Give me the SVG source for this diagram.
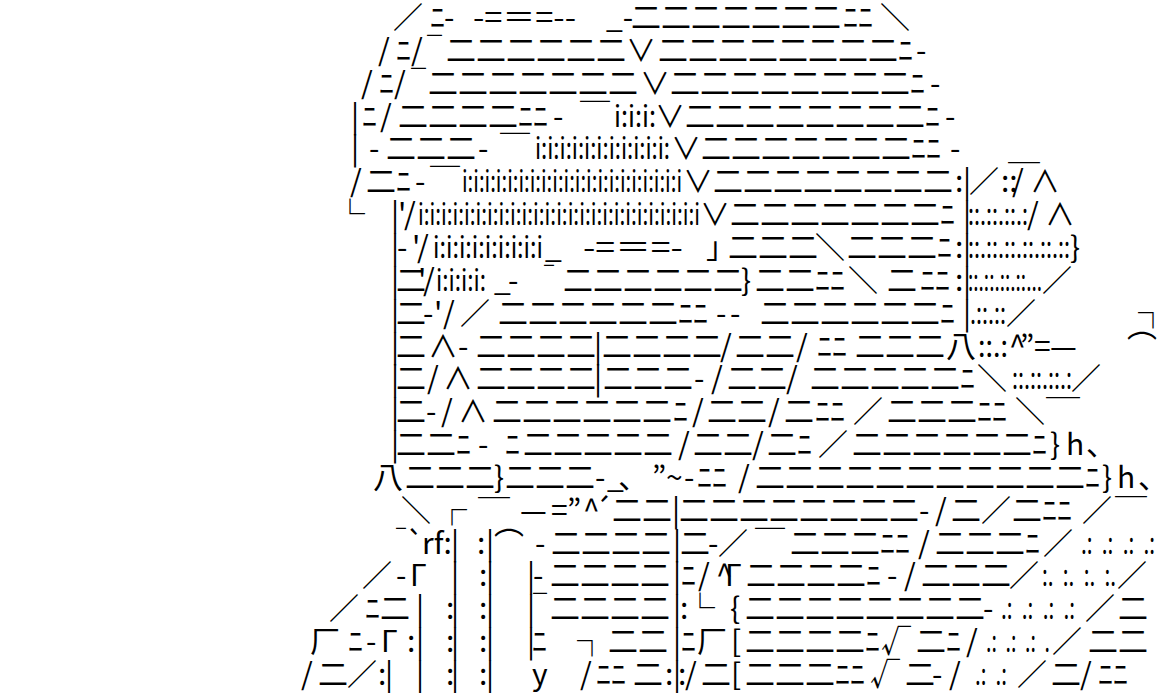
<svg xmlns="http://www.w3.org/2000/svg" width="1170" height="693" viewBox="0 0 1170 693">
<style>
text{font-family:"Noto Sans CJK JP","Noto Sans CJK SC",sans-serif;font-size:30px;fill:#000;white-space:pre}
</style>
<rect width="1170" height="693" fill="#fff"/>
<g id="art">
<g id="l1"><text y="28"><tspan x="393">／</tspan><tspan x="430">ﾆ</tspan><tspan x="444">-</tspan><tspan x="606">_-</tspan><tspan x="631">二二二二二二二</tspan><tspan x="843">ﾆﾆ</tspan><tspan x="880">＼</tspan></text><text x="473" y="28" textLength="103" lengthAdjust="spacingAndGlyphs">-=＝=--</text></g>
<g id="l2"><text y="61"><tspan x="378">/</tspan><tspan x="396">ﾆ</tspan><tspan x="411">/</tspan><tspan x="446">二二二二二二</tspan><tspan x="626">∨</tspan><tspan x="658">二二二二二二二二</tspan><tspan x="898">ﾆ</tspan><tspan x="916">-</tspan></text><text x="427" y="61" textLength="15" lengthAdjust="spacingAndGlyphs">￣</text></g>
<g id="l3"><text y="94"><tspan x="361">/</tspan><tspan x="379">ﾆ</tspan><tspan x="394">/</tspan><tspan x="428">二二二二二二二</tspan><tspan x="640">∨</tspan><tspan x="670">二二二二二二二二</tspan><tspan x="910">ﾆ</tspan><tspan x="930">-</tspan></text><text x="411" y="94" textLength="15" lengthAdjust="spacingAndGlyphs">￣</text></g>
<g id="l4"><text y="127"><tspan x="351">|</tspan><tspan x="362">ﾆ</tspan><tspan x="380">/</tspan><tspan x="398">二二二二</tspan><tspan x="518">ﾆﾆ</tspan><tspan x="553">-</tspan><tspan x="580">￣</tspan><tspan x="655">∨</tspan><tspan x="685">二二二二二二二二</tspan><tspan x="925">ﾆ</tspan><tspan x="945">-</tspan></text><text x="614" y="127" textLength="42" lengthAdjust="spacingAndGlyphs">i:i:i:</text></g>
<g id="l5"><text y="159"><tspan x="351">|</tspan><tspan x="369">-</tspan><tspan x="386">二二二</tspan><tspan x="478">-</tspan><tspan x="500">￣</tspan><tspan x="671">∨</tspan><tspan x="701">二二二二二二二</tspan><tspan x="911">ﾆﾆ</tspan><tspan x="950">-</tspan></text><text x="535" y="159" textLength="135" lengthAdjust="spacingAndGlyphs">i:i:i:i:i:i:i:i:i:i:i:</text><text x="1008" y="159" textLength="32" lengthAdjust="spacingAndGlyphs">＿</text></g>
<g id="l6"><text y="192"><tspan x="350">/</tspan><tspan x="366">二ﾆ</tspan><tspan x="415">-</tspan><tspan x="430">￣</tspan><tspan x="683">∨</tspan><tspan x="713">二二二二二二二二</tspan><tspan x="955">:</tspan><tspan x="963">|</tspan><tspan x="969">／</tspan><tspan x="1001">::</tspan><tspan x="1012">/</tspan><tspan x="1030">∧</tspan></text><text x="462" y="192" textLength="220" lengthAdjust="spacingAndGlyphs">i:i:i:i:i:i:i:i:i:i:i:i:i:i:i:i:i:i:i:i</text></g>
<g id="l7"><text y="225"><tspan x="335">└</tspan><tspan x="391">|</tspan><tspan x="398">'</tspan><tspan x="404">/</tspan><tspan x="700">∨</tspan><tspan x="730">二二二二二二二</tspan><tspan x="940">ﾆ</tspan><tspan x="963">|</tspan><tspan x="1027">/</tspan><tspan x="1045">∧</tspan></text><text x="418" y="225" textLength="282" lengthAdjust="spacingAndGlyphs">i:i:i:i:i:i:i:i:i:i:i:i:i:i:i:i:i:i:i:i:i:i:i:i:i</text><text x="968" y="225" textLength="60" lengthAdjust="spacingAndGlyphs">::.::.::.:</text></g>
<g id="l8"><text y="258"><tspan x="391">|</tspan><tspan x="397">-</tspan><tspan x="412">'</tspan><tspan x="417">/</tspan><tspan x="545">_</tspan><tspan x="706">」</tspan><tspan x="728">二二二</tspan><tspan x="815">＼</tspan><tspan x="847">二二二ﾆ</tspan><tspan x="955">:</tspan><tspan x="963">|</tspan><tspan x="1070">}</tspan></text><text x="433" y="258" textLength="110" lengthAdjust="spacingAndGlyphs">i:i:i:i:i:i:i:i:i</text><text x="583" y="258" textLength="100" lengthAdjust="spacingAndGlyphs">-=＝=-</text><text x="968" y="258" textLength="102" lengthAdjust="spacingAndGlyphs">::.::.::.::.::.::</text></g>
<g id="l9"><text y="291"><tspan x="391">|</tspan><tspan x="396">二</tspan><tspan x="418">'</tspan><tspan x="423">/</tspan><tspan x="494">_</tspan><tspan x="508">-</tspan><tspan x="563">二二二二二二</tspan><tspan x="741">}</tspan><tspan x="755">二二</tspan><tspan x="815">ﾆﾆ</tspan><tspan x="848">＼</tspan><tspan x="887">二</tspan><tspan x="920">ﾆﾆ</tspan><tspan x="955">:</tspan><tspan x="963">|</tspan><tspan x="1042">／</tspan></text><text x="436" y="291" textLength="50" lengthAdjust="spacingAndGlyphs">i:i:i:i:</text><text x="544" y="291" textLength="10" lengthAdjust="spacingAndGlyphs">￣</text><text x="968" y="291" textLength="74" lengthAdjust="spacingAndGlyphs">::.::.::.::...</text></g>
<g id="l10"><text y="324"><tspan x="391">|</tspan><tspan x="396">二</tspan><tspan x="423">-</tspan><tspan x="434">'</tspan><tspan x="443">/</tspan><tspan x="460">／</tspan><tspan x="498">二二二二二二</tspan><tspan x="678">ﾆﾆ</tspan><tspan x="716">-</tspan><tspan x="730">-</tspan><tspan x="760">二二二二二二</tspan><tspan x="940">ﾆ</tspan><tspan x="963">|</tspan><tspan x="1006">／</tspan><tspan x="1138">┐</tspan></text><text x="970" y="324" textLength="36" lengthAdjust="spacingAndGlyphs">.::.::</text></g>
<g id="l11"><text y="357"><tspan x="391">|</tspan><tspan x="396">二</tspan><tspan x="428">∧</tspan><tspan x="458">-</tspan><tspan x="476">二二二二</tspan><tspan x="594">|</tspan><tspan x="602">二二二二</tspan><tspan x="720">/</tspan><tspan x="735">二二</tspan><tspan x="796">/</tspan><tspan x="817">ﾆﾆ</tspan><tspan x="855">二二二</tspan><tspan x="946">八</tspan><tspan x="1009">^</tspan><tspan x="1020">”</tspan><tspan x="1034">=</tspan><tspan x="1050">—</tspan><tspan x="1127">⌒</tspan></text><text x="978" y="357" textLength="30" lengthAdjust="spacingAndGlyphs">::.:</text></g>
<g id="l12"><text y="389"><tspan x="391">|</tspan><tspan x="396">二</tspan><tspan x="427">/</tspan><tspan x="443">∧</tspan><tspan x="476">二二二二</tspan><tspan x="594">|</tspan><tspan x="603">二二二</tspan><tspan x="694">-</tspan><tspan x="711">/</tspan><tspan x="727">二二</tspan><tspan x="786">/</tspan><tspan x="810">二二二二二</tspan><tspan x="960">ﾆ</tspan><tspan x="977">＼</tspan><tspan x="1071">／</tspan></text><text x="1012" y="389" textLength="60" lengthAdjust="spacingAndGlyphs">::.::.::.:</text><text x="1046" y="394" textLength="34" lengthAdjust="spacingAndGlyphs">＿</text></g>
<g id="l13"><text y="422"><tspan x="391">|</tspan><tspan x="396">二</tspan><tspan x="426">-</tspan><tspan x="441">/</tspan><tspan x="458">∧</tspan><tspan x="492">二二二二二二</tspan><tspan x="673">ﾆ</tspan><tspan x="692">/</tspan><tspan x="707">二二</tspan><tspan x="768">/</tspan><tspan x="784">二</tspan><tspan x="815">ﾆﾆ</tspan><tspan x="853">／</tspan><tspan x="887">二二二</tspan><tspan x="977">ﾆﾆ</tspan><tspan x="1015">＼</tspan></text></g>
<g id="l14"><text y="455"><tspan x="391">|</tspan><tspan x="396">二二</tspan><tspan x="456">ﾆ</tspan><tspan x="478">-</tspan><tspan x="505">ﾆ</tspan><tspan x="523">二二二二二</tspan><tspan x="678">/</tspan><tspan x="693">二二</tspan><tspan x="752">/</tspan><tspan x="767">二</tspan><tspan x="797">ﾆ</tspan><tspan x="818">／</tspan><tspan x="852">二二二二二二</tspan><tspan x="1032">ﾆ</tspan><tspan x="1050">}</tspan><tspan x="1066">h</tspan><tspan x="1086">、</tspan></text></g>
<g id="l15"><text y="488"><tspan x="373">八</tspan><tspan x="405">二二二</tspan><tspan x="494">}</tspan><tspan x="505">二二二</tspan><tspan x="595">-</tspan><tspan x="607">_</tspan><tspan x="619">､</tspan><tspan x="652">”</tspan><tspan x="666">~</tspan><tspan x="684">-</tspan><tspan x="697">ﾆﾆ</tspan><tspan x="738">/</tspan><tspan x="755">二二二二二二二二二二二</tspan><tspan x="1085">ﾆ</tspan><tspan x="1102">}</tspan><tspan x="1117">h</tspan><tspan x="1138">、</tspan></text><text x="478" y="494" textLength="32" lengthAdjust="spacingAndGlyphs">＿</text><text x="1115" y="493" textLength="32" lengthAdjust="spacingAndGlyphs">＿</text></g>
<g id="l16"><text y="521"><tspan x="401">＼</tspan><tspan x="437">┌</tspan><tspan x="520">—</tspan><tspan x="551">=</tspan><tspan x="567">”</tspan><tspan x="583">^</tspan><tspan x="594">´</tspan><tspan x="612">二二</tspan><tspan x="672">|</tspan><tspan x="679">二二二二二二二二</tspan><tspan x="919">-</tspan><tspan x="935">/</tspan><tspan x="951">二</tspan><tspan x="981">／</tspan><tspan x="1012">二</tspan><tspan x="1042">ﾆﾆ</tspan><tspan x="1082">／</tspan></text></g>
<g id="l17"><text y="554"><tspan x="406">`</tspan><tspan x="422">rf:</tspan><tspan x="451">|</tspan><tspan x="477">:</tspan><tspan x="486">|</tspan><tspan x="494">⌒</tspan><tspan x="535">-</tspan><tspan x="551">二二二二</tspan><tspan x="673">|</tspan><tspan x="680">二</tspan><tspan x="708">-</tspan><tspan x="718">／</tspan><tspan x="755">￣</tspan><tspan x="790">二二二</tspan><tspan x="880">ﾆﾆ</tspan><tspan x="918">/</tspan><tspan x="935">二二二</tspan><tspan x="1025">ﾆ</tspan><tspan x="1043">／</tspan></text><text x="396" y="554" textLength="10" lengthAdjust="spacingAndGlyphs">￣</text><text x="1081" y="554" textLength="74" lengthAdjust="spacingAndGlyphs">.:  .:  .:  .:</text></g>
<g id="l18"><text y="586"><tspan x="362">／</tspan><tspan x="396">-</tspan><tspan x="410">Γ</tspan><tspan x="451">|</tspan><tspan x="479">:</tspan><tspan x="486">|</tspan><tspan x="527">|</tspan><tspan x="533">-</tspan><tspan x="550">二二二二</tspan><tspan x="673">|</tspan><tspan x="681">ﾆ</tspan><tspan x="698">/</tspan><tspan x="716">^</tspan><tspan x="725">Γ</tspan><tspan x="746">二二二二</tspan><tspan x="866">ﾆ</tspan><tspan x="887">-</tspan><tspan x="904">/</tspan><tspan x="921">二二二</tspan><tspan x="1009">／</tspan><tspan x="1117">／</tspan></text><text x="1042" y="586" textLength="74" lengthAdjust="spacingAndGlyphs">:.  :.  :.  :.</text></g>
<g id="l19"><text y="619"><tspan x="329">／</tspan><tspan x="365">ﾆ</tspan><tspan x="380">二</tspan><tspan x="416">|</tspan><tspan x="446">:</tspan><tspan x="451">|</tspan><tspan x="479">:</tspan><tspan x="486">|</tspan><tspan x="527">|</tspan><tspan x="550">二二二二</tspan><tspan x="673">|</tspan><tspan x="680">:</tspan><tspan x="685">└</tspan><tspan x="730">{</tspan><tspan x="745">二二二二二二二二</tspan><tspan x="983">-</tspan><tspan x="1085">／</tspan><tspan x="1118">二</tspan></text><text x="533" y="619" textLength="14" lengthAdjust="spacingAndGlyphs">￣</text><text x="1001" y="619" textLength="74" lengthAdjust="spacingAndGlyphs">.:  .:  .:  .:</text></g>
<g id="l20"><text y="652"><tspan x="310">厂</tspan><tspan x="348">ﾆ</tspan><tspan x="366">-</tspan><tspan x="381">Γ</tspan><tspan x="407">:</tspan><tspan x="416">|</tspan><tspan x="446">:</tspan><tspan x="451">|</tspan><tspan x="479">:</tspan><tspan x="486">|</tspan><tspan x="527">|</tspan><tspan x="532">ﾆ</tspan><tspan x="577">┐</tspan><tspan x="608">二二</tspan><tspan x="673">|</tspan><tspan x="681">ﾆ</tspan><tspan x="697">厂</tspan><tspan x="731">[</tspan><tspan x="745">二二二二</tspan><tspan x="865">ﾆ</tspan><tspan x="881">√</tspan><tspan x="916">二</tspan><tspan x="946">ﾆ</tspan><tspan x="966">/</tspan><tspan x="1052">／</tspan><tspan x="1088">二二</tspan></text><text x="986" y="652" textLength="64" lengthAdjust="spacingAndGlyphs">.:  .:  .:  .</text></g>
<g id="l21"><text y="685"><tspan x="301">/</tspan><tspan x="318">二</tspan><tspan x="347">／</tspan><tspan x="378">:</tspan><tspan x="385">|</tspan><tspan x="416">|</tspan><tspan x="446">:</tspan><tspan x="451">|</tspan><tspan x="479">:</tspan><tspan x="486">|</tspan><tspan x="532">y</tspan><tspan x="580">/</tspan><tspan x="596">ﾆﾆ</tspan><tspan x="633">二</tspan><tspan x="665">:</tspan><tspan x="673">|</tspan><tspan x="678">:</tspan><tspan x="685">/</tspan><tspan x="701">二</tspan><tspan x="731">[</tspan><tspan x="745">二二二</tspan><tspan x="835">ﾆﾆ</tspan><tspan x="870">√</tspan><tspan x="905">二</tspan><tspan x="932">-</tspan><tspan x="949">/</tspan><tspan x="1017">／</tspan><tspan x="1051">二</tspan><tspan x="1080">/</tspan><tspan x="1098">ﾆﾆ</tspan></text><text x="975" y="685" textLength="32" lengthAdjust="spacingAndGlyphs">.:  .:</text></g>
</g>
</svg>
